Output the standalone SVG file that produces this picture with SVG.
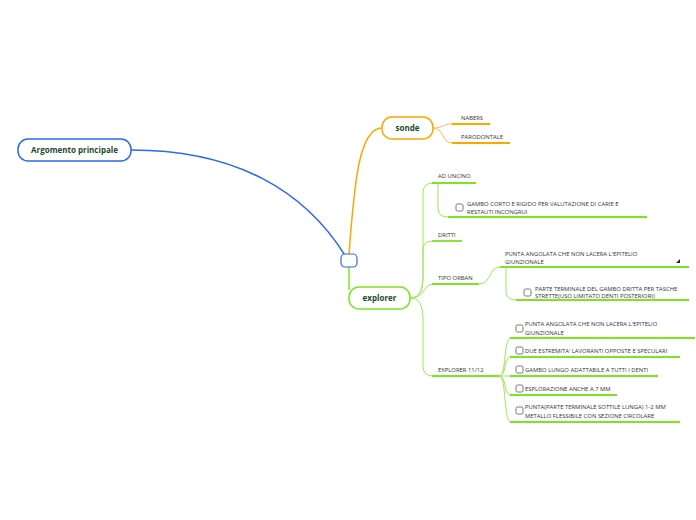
<svg xmlns="http://www.w3.org/2000/svg" width="696" height="520" viewBox="0 0 696 520">
<style>
.node-text{font-family:"Open Sans","Liberation Sans",sans-serif;font-size:8px;font-weight:bold;fill:#1d4a2e}
.t{font-family:"Open Sans","Liberation Sans",sans-serif;font-size:5.9px;fill:#333}
.cg{fill:none;stroke:#9be85a;stroke-width:1}
.ug{fill:none;stroke:#7ee321;stroke-width:1.8}
.co{fill:none;stroke:#ffb84d;stroke-width:1}
.uo{fill:none;stroke:#ffa500;stroke-width:1.8}
.cb{fill:#fff;stroke:#555;stroke-width:0.8}
</style>
<rect width="696" height="520" fill="#fff"/>
<g id="connectors">
<path d="M131,150 C235,150 305,190 346,257" fill="none" stroke="#2a6af0" stroke-width="1.5"/>
<path d="M349,254 C354,190 358,128 382,128" fill="none" stroke="#ffa500" stroke-width="1.5"/>
<path d="M349,267 L349,290" fill="none" stroke="#7ee321" stroke-width="1.5"/>
<path class="co" d="M433,128 C444,128 442,124 452,124"/>
<path class="co" d="M433,128 C444,128 442,143 452,143"/>
<path class="uo" d="M452,124 L490,124"/>
<path class="uo" d="M452,143 L510,143"/>
<path class="cg" d="M410,298 C420,298 423,290 423,275 L423,193 Q423,183 433,183"/>
<path class="cg" d="M410,298 C420,298 423,290 423,275 L423,250 Q423,241 433,241"/>
<path class="cg" d="M410,298 C420,298 422,293 425,289 Q428,284 433,284"/>
<path class="cg" d="M410,298 C420,298 423,306 423,320 L423,366 Q423,376 433,376"/>
<path class="ug" d="M432,183 L476,183"/>
<path class="ug" d="M432,241 L462,241"/>
<path class="ug" d="M432,284 L479,284"/>
<path class="ug" d="M432,376 L499,376"/>
<path class="cg" d="M438,183 L438,208 Q438,217 448,217"/>
<path class="ug" d="M448,217 L647,217"/>
<path class="cg" d="M479,284 C492,284 488,267 500,267"/>
<path class="ug" d="M500,267 L689,267"/>
<path class="cg" d="M506,267 L506,291 Q506,300 516,300"/>
<path class="ug" d="M516,300 L689,300"/>
<path class="cg" d="M499,376 C507,376 503,338 511,338"/>
<path class="cg" d="M499,376 C507,376 503,357 511,357"/>
<path class="cg" d="M499,376 L511,376"/>
<path class="cg" d="M499,376 C507,376 503,395 511,395"/>
<path class="cg" d="M499,376 C507,376 503,422 511,422"/>
<path class="ug" d="M510,338 L695,338"/>
<path class="ug" d="M510,357 L680,357"/>
<path class="ug" d="M510,376 L658,376"/>
<path class="ug" d="M510,395 L617,395"/>
<path class="ug" d="M510,422 L680,422"/>
</g>
<g id="main">
<rect x="18" y="139" width="113" height="22" rx="10" fill="#fff" stroke="#2a6af0" stroke-width="1.5"/>
<text class="node-text" x="74.5" y="153" text-anchor="middle">Argomento principale</text>
</g>
<g id="hub">
<rect x="341" y="254" width="16" height="13" rx="4" fill="#fff" stroke="#2a6af0" stroke-width="1.2"/>
</g>
<g id="sonde">
<rect x="382" y="117" width="51" height="22" rx="10" fill="#fff" stroke="#ffa500" stroke-width="1.5"/>
<text class="node-text" x="407.5" y="131" text-anchor="middle">sonde</text>
</g>
<g id="nabers"><text class="t" x="461" y="120">NABERS</text></g>
<g id="parodontale"><text class="t" x="461" y="139">PARODONTALE</text></g>
<g id="explorer">
<rect x="349" y="287" width="61" height="22" rx="10" fill="#fff" stroke="#7ee321" stroke-width="1.5"/>
<text class="node-text" x="379.5" y="301" text-anchor="middle">explorer</text>
</g>
<g id="ad-uncino"><text class="t" x="438" y="178">AD UNCINO</text></g>
<g id="gambo-corto">
<rect class="cb" x="456" y="204" width="7" height="7" rx="1.5"/>
<text class="t" x="467" y="206">GAMBO CORTO E RIGIDO PER VALUTAZIONE DI CARIE E</text>
<text class="t" x="467" y="214">RESTAUTI INCONGRUI</text>
</g>
<g id="dritti"><text class="t" x="438" y="237">DRITTI</text></g>
<g id="tipo-orban"><text class="t" x="438" y="280">TIPO ORBAN</text></g>
<g id="punta-orban">
<text class="t" x="505" y="256">PUNTA ANGOLATA CHE NON LACERA L'EPITELIO</text>
<text class="t" x="505" y="264">GIUNZIONALE</text>
<polygon points="680,259 680,263 676,263" fill="#222"/>
</g>
<g id="parte-terminale">
<rect class="cb" x="524" y="289" width="7" height="7" rx="1.5"/>
<text class="t" x="535" y="291">PARTE TERMINALE DEL GAMBO DRITTA PER TASCHE</text>
<text class="t" x="535" y="298">STRETTE(USO LIMITATO DENTI POSTERIORI)</text>
</g>
<g id="explorer-1112"><text class="t" x="438" y="372">EXPLORER 11/12</text></g>
<g id="punta-angolata">
<rect class="cb" x="516" y="325" width="7" height="7" rx="1.5"/>
<text class="t" x="525" y="326">PUNTA ANGOLATA CHE NON LACERA L'EPITELIO</text>
<text class="t" x="525" y="335">GIUNZIONALE</text>
</g>
<g id="due-estremita">
<rect class="cb" x="516" y="347" width="7" height="7" rx="1.5"/>
<text class="t" x="525" y="353">DUE ESTREMITA' LAVORANTI OPPOSTE E SPECULARI</text>
</g>
<g id="gambo-lungo">
<rect class="cb" x="516" y="366" width="7" height="7" rx="1.5"/>
<text class="t" x="525" y="372">GAMBO LUNGO ADATTABILE A TUTTI I DENTI</text>
</g>
<g id="esplorazione">
<rect class="cb" x="516" y="385" width="7" height="7" rx="1.5"/>
<text class="t" x="525" y="391">ESPLORAZIONE ANCHE A 7 MM</text>
</g>
<g id="punta-parte">
<rect class="cb" x="516" y="407" width="7" height="7" rx="1.5"/>
<text class="t" x="525" y="409">PUNTA(PARTE TERMINALE SOTTILE LUNGA) 1-2 MM</text>
<text class="t" x="525" y="418">METALLO FLESSIBILE CON SEZIONE CIRCOLARE</text>
</g>
</svg>
